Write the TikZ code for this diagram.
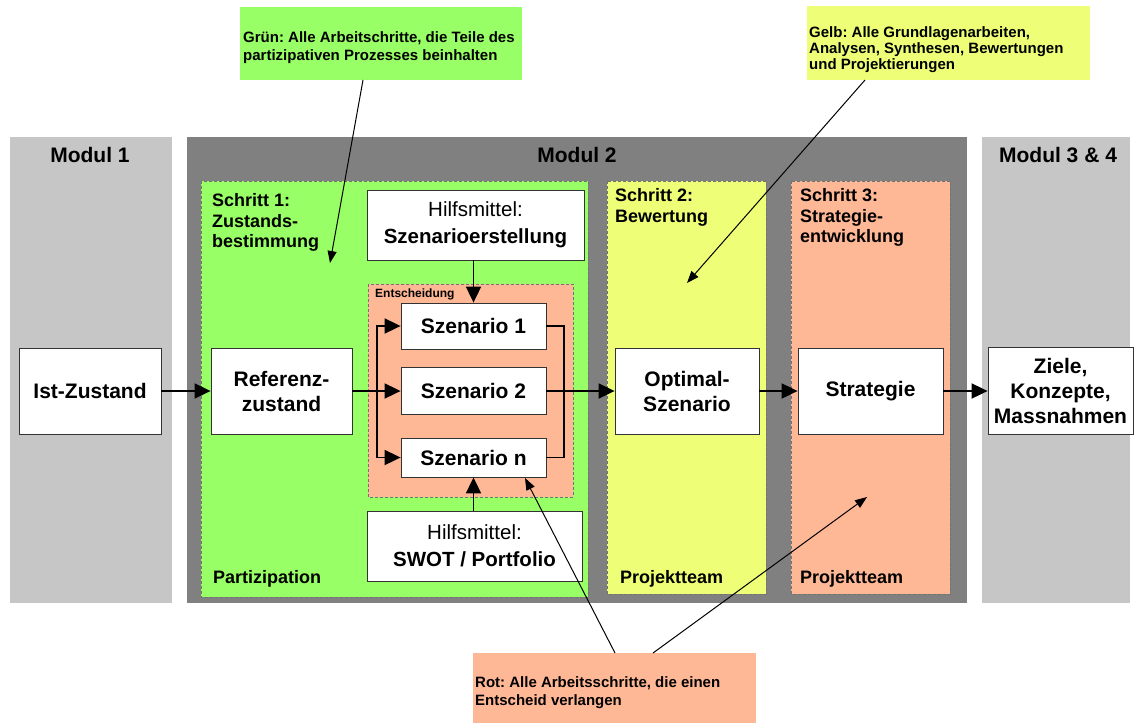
\documentclass[tikz,border=0pt]{standalone}
\usepackage{fontspec}
\setmainfont{Liberation Sans}
\usetikzlibrary{arrows.meta}
\definecolor{panelgrey}{HTML}{C6C6C6}
\definecolor{moddark}{HTML}{808080}
\definecolor{partgreen}{HTML}{99FF66}
\definecolor{evalyellow}{HTML}{EEFF77}
\definecolor{decsalmon}{HTML}{FFB896}
\frenchspacing

\begin{document}
\begin{tikzpicture}[x=1pt,y=-1pt,
  box/.style={draw=black!80, line width=0.8pt, fill=white, align=center,
    inner sep=0pt, font=\fontsize{21}{25}\selectfont\bfseries},
  toolbox/.style={box, font=\fontsize{20.5}{27}\selectfont},
  flow/.style={line width=1.8pt, -{Triangle[length=16pt,width=15pt]}},
  link/.style={line width=1.8pt},
  pointer/.style={line width=1pt, -{Triangle[length=12pt,width=9pt]}},
  stepframe/.style={draw=black!55, line width=0.7pt, dash pattern=on 3pt off 2pt},
  steplabel/.style={anchor=north west, inner sep=0pt, align=left,
    font=\fontsize{18}{20.5}\selectfont\bfseries},
  footlabel/.style={anchor=base west, inner sep=0pt,
    font=\fontsize{18}{20.5}\selectfont\bfseries},
  modtitle/.style={inner sep=0pt, font=\fontsize{21}{25}\selectfont\bfseries},
  notebox/.style={anchor=north west, inner sep=0pt},
  notetext/.style={anchor=north west, inner sep=0pt, align=left,
    font=\fontsize{15}{17.5}\selectfont\bfseries}
]
\useasboundingbox (0,0) rectangle (1137,724);
\fill[white] (0,0) rectangle (1137,724);

% module panels
\fill[panelgrey] (10,137) rectangle (172,603);
\fill[moddark] (187,137) rectangle (967,603);
\fill[panelgrey] (982,137) rectangle (1130,603);
\node[modtitle] (m1) at (90,155) {Modul 1};
\node[modtitle] (m2) at (577,155) {Modul 2};
\node[modtitle] (m34) at (1058,155) {Modul 3 \& 4};

% step frames
\filldraw[stepframe, fill=partgreen] (201,181) rectangle (588,597);
\filldraw[stepframe, fill=evalyellow] (607,181) rectangle (766,594);
\filldraw[stepframe, fill=decsalmon] (791,181) rectangle (950,594);
\filldraw[stepframe, fill=decsalmon] (368,284) rectangle (573,497);

\node[steplabel] (s1) at (212,193.5) {Schritt 1:\\Zustands-\\bestimmung};
\node[steplabel] (s2) at (615,188.5) {Schritt 2:\\Bewertung};
\node[steplabel] (s3) at (800,188.5) {Schritt 3:\\Strategie-\\entwicklung};
\node[footlabel] (p1) at (213,583.5) {Partizipation};
\node[footlabel] (p2) at (620,583.5) {Projektteam};
\node[footlabel] (p3) at (800,583.5) {Projektteam};
\node[anchor=base west, inner sep=0pt, font=\fontsize{12}{14}\selectfont\bfseries]
  (dec) at (375,297.5) {Entscheidung};

% process boxes
\node[box, minimum width=142, minimum height=86] (ist) at (90,391) {Ist-Zustand};
\node[box, minimum width=141, minimum height=86] (ref) at (281.5,391) {Referenz-\\zustand};
\node[box, minimum width=145, minimum height=46] (sz1) at (473.5,326) {Szenario 1};
\node[box, minimum width=145, minimum height=47] (sz2) at (473.5,391) {Szenario 2};
\node[box, minimum width=145, minimum height=39] (szn) at (473.5,457.5) {Szenario n};
\node[box, minimum width=144, minimum height=86] (opt) at (687,391) {Optimal-\\Szenario};
\node[box, minimum width=145, minimum height=86] (str) at (870.5,391) {Strategie};
\node[box, minimum width=145, minimum height=87] (zie) at (1060.5,391) {Ziele,\\Konzepte,\\Massnahmen};
\node[toolbox, minimum width=217, minimum height=70] (hsz) at (475.5,225)
  {Hilfsmittel:\\\textbf{Szenarioerstellung}};
\node[toolbox, minimum width=215, minimum height=70] (hsw) at (474.5,546)
  {Hilfsmittel:\\\textbf{SWOT / Portfolio}};

% connectors
\coordinate (busL) at (377,391);
\coordinate (busR) at (564,391);
\draw[flow] (ist) -- (ref);
\draw[flow] (ref) -- (sz2);
\draw[flow] (busL) |- (sz1.west);
\draw[flow] (busL) |- (szn.west);
\draw[link] (sz1.east) -| (busR) |- (szn.east);
\draw[flow] (sz2) -- (opt);
\draw[flow] (opt) -- (str);
\draw[flow] (str) -- (zie);
\draw[flow] (hsz.south -| sz1.north) -- (sz1.north);
\draw[flow] (hsw.north -| szn.south) -- (szn.south);

% legend notes
\node[notebox, fill=partgreen, minimum width=282, minimum height=73] (gnote) at (240,7) {};
\node[notetext] (gtext) at (243,31.5) {Grün: Alle Arbeitschritte, die Teile des\\partizipativen Prozesses beinhalten};
\node[notebox, fill=evalyellow, minimum width=283, minimum height=74] (ynote) at (807,6) {};
\node[notetext, font=\fontsize{15}{16}\selectfont\bfseries] (ytext) at (809,26.5)
  {Gelb: Alle Grundlagenarbeiten,\\Analysen, Synthesen, Bewertungen\\und Projektierungen};
\node[notebox, fill=decsalmon, minimum width=283, minimum height=70] (rnote) at (473,653) {};
\node[notetext] (rtext) at (475,676.5) {Rot: Alle Arbeitsschritte, die einen\\Entscheid verlangen};

\coordinate (gfrom) at (363,80);
\coordinate (gto) at (330,263);
\coordinate (yfrom) at (865,80);
\coordinate (yto) at (687,283);
\coordinate (rfromA) at (615,653);
\coordinate (rtoA) at (525,478);
\coordinate (rfromB) at (653,653);
\coordinate (rtoB) at (867,497);
\draw[pointer] (gfrom) -- (gto);
\draw[pointer] (yfrom) -- (yto);
\draw[pointer] (rfromA) -- (rtoA);
\draw[pointer] (rfromB) -- (rtoB);
\end{tikzpicture}
\end{document}
